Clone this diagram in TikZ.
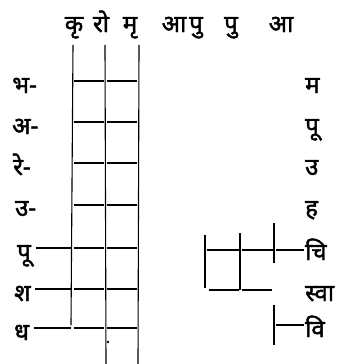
\documentclass[tikz,border=0pt]{standalone}
\usepackage{fontspec}
\newfontfamily\deva[Script=Devanagari,FakeBold=1.8]{Noto Sans}
\begin{document}
\begin{tikzpicture}[x=1pt,y=-1pt,
  lbl/.style={inner sep=0pt,font=\deva\fontsize{24}{24}\selectfont},
  grid/.style={line width=1.1pt,black},
  seg/.style={line width=1.4pt,black,shorten <=1.5pt,shorten >=1.5pt}]
\useasboundingbox (0,0) rectangle (345,364);
% header
\foreach \n/\x/\t in {h1/74/कृ,h2/101/रो,h3/130/मृ,h4/174/आ,h5/196/पु,h6/231/पु,h7/281/आ}
  \node[lbl,anchor=base] (\n) at (\x,32) {\t};
% left labels
\node[lbl,anchor=base west] (l1) at (12,93) {भ-};
\node[lbl,anchor=base west] (l2) at (12,134) {अ-};
\node[lbl,anchor=base west] (l3) at (13,175) {रे-};
\node[lbl,anchor=base west] (l4) at (15,216) {उ-};
\node[lbl,anchor=base west] (l5) at (17,260) {पू};
\node[lbl,anchor=base west] (l6) at (14,301) {श};
\node[lbl,anchor=base west] (l7) at (14,340) {ध};
% right labels
\foreach \n/\y/\t in {r1/93/म,r2/134/पू,r3/175/उ,r4/216/ह,r5/260/चि,r6/301/स्वा,r7/337/वि}
  \node[lbl,anchor=base west] (\n) at (305,\y) {\t};
% left grid coordinates
\foreach \i/\y in {1/81,2/122,3/163,4/205,5/248,6/289,7/328}{
  \coordinate (a\i) at (72,\y);
  \coordinate (b\i) at (105,\y);
  \coordinate (c\i) at (138,\y);
}
\coordinate (at) at (73,45); \coordinate (ab) at (71,325);
\coordinate (bt) at (105,45); \coordinate (bb) at (106,364);
\coordinate (ct) at (139,45); \coordinate (cb) at (138,364);
\draw[grid] (at) -- (ab);
\draw[grid] (bt) -- (bb);
\draw[grid] (ct) -- (cb);
\foreach \i in {1,...,7}{
  \draw[seg] (a\i) -- (b\i);
  \draw[seg] (b\i) -- (c\i);
}
\draw[seg] (l5.east|-a5) ++(3,0) coordinate (d5) -- (a5);
\draw[seg] (l6.east|-a6) ++(3,0) coordinate (d6) -- (a6);
\draw[seg] (l7.east|-a7) ++(3,0) coordinate (d7) -- (a7);
\fill (108,342) circle (1.4);
% right grid
\coordinate (p1) at (205,250); \coordinate (p2) at (240,250); \coordinate (p3) at (274,250);
\coordinate (q1) at (207,290); \coordinate (q2) at (240,290); \coordinate (q3) at (273,290);
\coordinate (s3) at (274,325);
\draw[grid] (205,235) -- (205,288);
\draw[grid] (240,233) -- (240,290);
\draw[grid] (274,223) -- (274,263);
\draw[grid] (274,305) -- (274,345);
\draw[seg] (p1) -- (p2);
\draw[seg] (p2) -- (p3);
\draw[seg] (p3) -- (r5.west|-p3);
\draw[seg] (q1) -- (q2);
\draw[seg] (q2) -- (q3);
\draw[seg] (s3) -- (r7.west|-s3);
\end{tikzpicture}
\end{document}
